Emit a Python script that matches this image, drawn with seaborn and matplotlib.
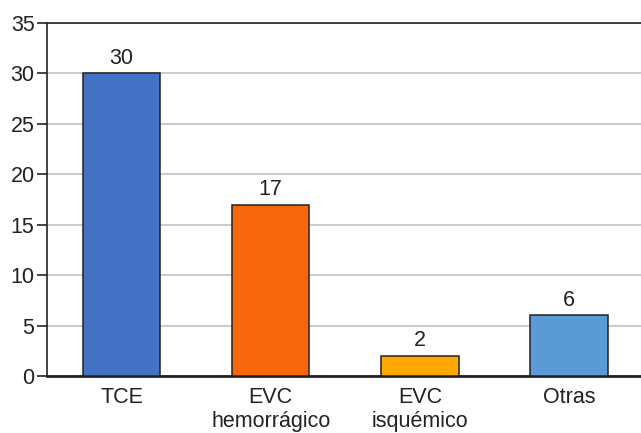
import matplotlib
matplotlib.use("Agg")
import matplotlib.pyplot as plt
import seaborn as sns
import pandas as pd

categories = ["TCE", "EVC\nhemorrágico", "EVC\nisquémico", "Otras"]
counts = [30, 17, 2, 6]
colors = ["#4472C4", "#F7680C", "#FFA800", "#5B9BD5"]
y_ticks = [0, 5, 10, 15, 20, 25, 30, 35]

sns.set_theme(style="white")
plt.rcParams["font.family"] = ["Liberation Sans", "DejaVu Sans"]

df = pd.DataFrame({"cause": categories, "n": counts})

fig = plt.figure(figsize=(6.41, 4.33), dpi=100)
ax = fig.add_axes([47 / 641, 1 - 376 / 433, 596.5 / 641, 353 / 433])

sns.barplot(data=df, x="cause", y="n", hue="cause", palette=colors, legend=False,
            saturation=1, width=0.52, edgecolor="#222222", linewidth=1.1,
            ax=ax, zorder=3)

for i, v in enumerate(counts):
    ax.text(i, v + 0.45, str(v), ha="center", va="bottom", fontsize=15.5, color="#222222")

ax.set_ylim(0, 35)
ax.set_xlim(-0.5, 3.5)
ax.set_yticks(y_ticks)
ax.yaxis.grid(True, color="#cccccc", linewidth=1.5, zorder=0)
ax.set_axisbelow(True)
ax.set_xlabel("")
ax.set_ylabel("")
ax.tick_params(axis="y", which="both", left=True, length=7, width=1.2, color="#222222",
               labelsize=15.5, labelcolor="#222222", pad=2)
ax.tick_params(axis="x", bottom=False, labelsize=15.5, labelcolor="#222222", pad=2)
for lbl in ax.get_xticklabels():
    lbl.set_linespacing(1.15)

for side in ["left", "top"]:
    ax.spines[side].set_color("#222222")
    ax.spines[side].set_linewidth(1.2)
ax.spines["bottom"].set_color("#222222")
ax.spines["bottom"].set_linewidth(2)
ax.spines["right"].set_visible(False)

fig.savefig("out.png", dpi=100)
